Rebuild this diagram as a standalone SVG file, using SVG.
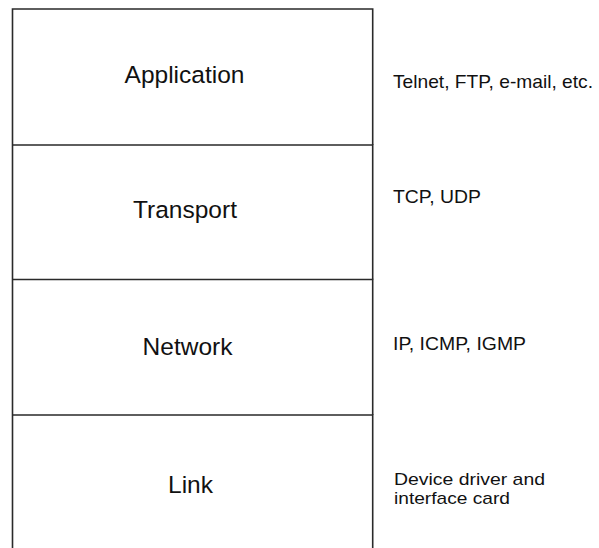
<svg xmlns="http://www.w3.org/2000/svg" width="599" height="548" viewBox="0 0 599 548">
<style>
.edge{fill:none;stroke:#2a2a2a;stroke-width:1.6}
.lbl{font-family:"Liberation Sans",Arial,sans-serif;font-size:24.5px;fill:#111;text-anchor:middle}
.note{font-family:"Liberation Sans",Arial,sans-serif;font-size:18.5px;fill:#111}
.note2{font-family:"Liberation Sans",Arial,sans-serif;font-size:17px;fill:#111}
</style>
<rect width="599" height="548" fill="#fff"/>
<g id="application">
<path class="edge" d="M12.5,548 V9 H372.7 V145"/>
<text class="lbl" x="184.5" y="83">Application</text>
<text class="note" x="393" y="88" textLength="200" lengthAdjust="spacingAndGlyphs">Telnet, FTP, e-mail, etc.</text>
</g>
<g id="transport">
<path class="edge" d="M12.5,145 H372.7 V279.5"/>
<text class="lbl" x="185" y="218">Transport</text>
<text class="note" x="393" y="202.5" textLength="88" lengthAdjust="spacingAndGlyphs">TCP, UDP</text>
</g>
<g id="network">
<path class="edge" d="M12.5,279.5 H372.7 V415"/>
<text class="lbl" x="187.5" y="355">Network</text>
<text class="note" x="393" y="350" textLength="133" lengthAdjust="spacingAndGlyphs">IP, ICMP, IGMP</text>
</g>
<g id="link">
<path class="edge" d="M12.5,415 H372.7 V548"/>
<text class="lbl" x="190.5" y="493">Link</text>
<text class="note2" x="394" y="484.5" textLength="151" lengthAdjust="spacingAndGlyphs">Device driver and</text>
<text class="note2" x="394" y="503.5" textLength="116" lengthAdjust="spacingAndGlyphs">interface card</text>
</g>
<g id="connectors"></g>
</svg>
